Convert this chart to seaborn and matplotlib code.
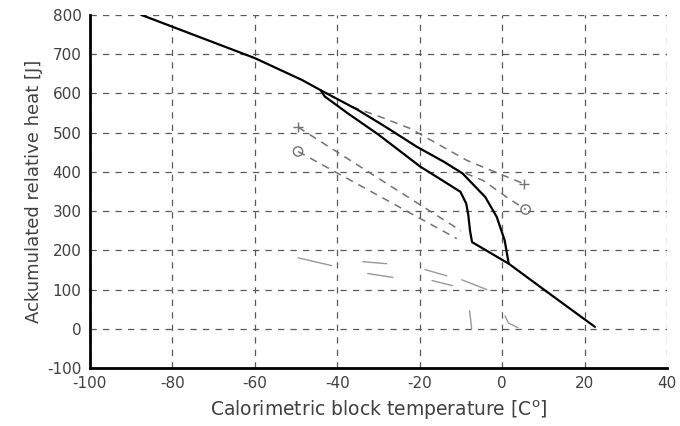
import matplotlib
matplotlib.use('Agg')
from matplotlib import pyplot as plt
import pandas as pd
import seaborn as sns

# main measured curve (outer branch, full run)
temp_outer = [-87.5, -75, -60, -48.5, -44, -35, -28, -20.7, -14, -9.6, -4.1, -1.3, 0.6, 1.6, 10, 22.5]
heat_outer = [800, 750, 690, 634, 608, 558, 513, 464, 425, 396, 336, 285, 226, 166, 101, 5]

# inner branch, splits off and rejoins
temp_inner = [-44, -43, -37.4, -30, -19.8, -14, -10.1, -8.7, -8.2, -7.8, -7.3, 1.6]
heat_inner = [608, 592, 549, 495, 413, 375, 349, 319, 290, 251, 221, 166]

# model curves (dashed, gray)
temp_plus_hi = [-36.5, -30, -22.4, -8.5, 5.2]
heat_plus_hi = [566, 542, 511, 429, 370]
temp_circ_hi = [-12, -4.6, 1.2, 5.7]
heat_circ_hi = [410, 378, 335, 304]
temp_plus_lo = [-49.5, -10]
heat_plus_lo = [514, 250]
temp_circ_lo = [-49.5, -11]
heat_circ_lo = [452, 230]

# faint traces near the bottom
faint = [
    ([-49.5, -41.3], [181, 161]),
    ([-33.8, -28], [171, 166]),
    ([-32.6, -26.5], [141, 131]),
    ([-18.7, -13.4], [151, 135]),
    ([-17, -12], [123, 110]),
    ([-9.8, -3.7], [125, 100]),
    ([-7.9, -7.6, -7.4], [46, 20, 0]),
    ([0.7, 1.5, 3.8], [33, 15, 3]),
]

xticks = list(range(-100, 41, 20))
yticks = list(range(-100, 801, 100))

sns.set_style('white')
plt.rcParams['font.family'] = ['DejaVu Sans']
plt.rcParams['axes.unicode_minus'] = False

f, ax = plt.subplots(figsize=(6.8, 4.26), dpi=100)
f.subplots_adjust(left=0.132, right=0.981, top=0.965, bottom=0.136)

dash = (0, (5, 4))
for tx, hy in [(temp_plus_hi, heat_plus_hi), (temp_circ_hi, heat_circ_hi),
               (temp_plus_lo, heat_plus_lo), (temp_circ_lo, heat_circ_lo)]:
    sns.lineplot(x=tx, y=hy, sort=False, estimator=None, ax=ax,
                 color='0.45', linewidth=1.1, linestyle=dash)

for tx, hy in faint:
    sns.lineplot(x=tx, y=hy, sort=False, estimator=None, ax=ax,
                 color='0.6', linewidth=1.0)

ends = pd.DataFrame({
    'temp': [temp_plus_hi[-1], temp_plus_lo[0], temp_circ_hi[-1], temp_circ_lo[0]],
    'heat': [heat_plus_hi[-1], heat_plus_lo[0], heat_circ_hi[-1], heat_circ_lo[0]],
    'kind': ['+', '+', 'o', 'o'],
})
sns.scatterplot(data=ends[ends.kind == '+'], x='temp', y='heat', marker='+',
                s=60, color='0.45', linewidth=1.0, ax=ax, legend=False)
sns.scatterplot(data=ends[ends.kind == 'o'], x='temp', y='heat', marker='o',
                s=45, facecolor='none', edgecolor='0.45', linewidth=1.0, ax=ax, legend=False)

sns.lineplot(x=temp_outer, y=heat_outer, sort=False, estimator=None, ax=ax,
             color='black', linewidth=1.6)
sns.lineplot(x=temp_inner, y=heat_inner, sort=False, estimator=None, ax=ax,
             color='black', linewidth=1.6)

ax.set_xlim(-100, 40)
ax.set_ylim(-100, 800)
ax.set_xticks(xticks)
ax.set_yticks(yticks)
ax.grid(True, linestyle=(0, (5, 5)), color='0.35', linewidth=0.9)
ax.set_axisbelow(True)

for s in ['top', 'right']:
    ax.spines[s].set_visible(False)
for s in ['left', 'bottom']:
    ax.spines[s].set_linewidth(2.0)
    ax.spines[s].set_color('black')

ax.tick_params(direction='in', length=3, width=1, labelsize=11, colors='0.25', pad=6)
ax.set_xlabel('Calorimetric block temperature [C$^\\mathregular{o}$]', fontsize=13.5, color='0.25', labelpad=5)
ax.set_ylabel('Ackumulated relative heat [J]', fontsize=13, color='0.25', labelpad=3)

plt.savefig('out.png', dpi=100)
